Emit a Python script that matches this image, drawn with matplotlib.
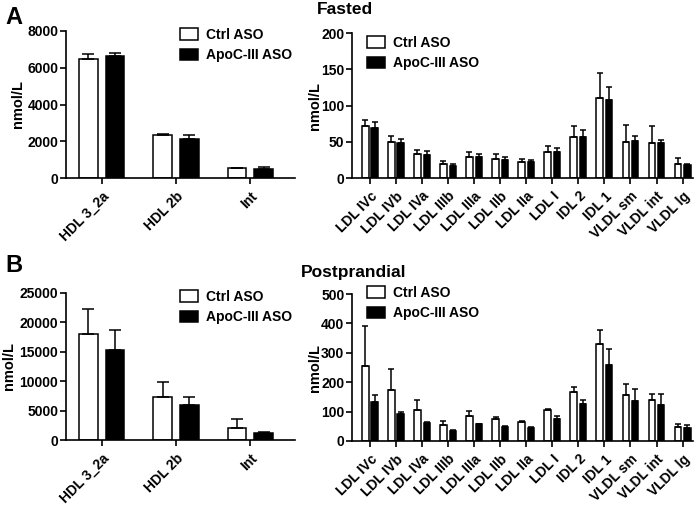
import matplotlib
matplotlib.use("Agg")
import matplotlib.pyplot as plt
import numpy as np

plt.rcParams["font.family"] = ["Liberation Sans", "DejaVu Sans"]
plt.rcParams["font.weight"] = "bold"

HDL_LABELS = ["HDL 3_2a", "HDL 2b", "Int"]
LDL_LABELS = ["LDL IVc", "LDL IVb", "LDL IVa", "LDL IIIb", "LDL IIIa", "LDL IIb",
              "LDL IIa", "LDL I", "IDL 2", "IDL 1", "VLDL sm", "VLDL int", "VLDL lg"]

# Fasted
fast_hdl_ctrl = [6450, 2330, 545]
fast_hdl_ctrl_err = [300, 50, 20]
fast_hdl_apo = [6640, 2145, 510]
fast_hdl_apo_err = [160, 200, 90]

fast_ldl_ctrl = [71.7, 49.7, 33, 19.3, 29, 25.7, 21.6, 35.9, 56, 110, 49.7, 48.3, 18.9]
fast_ldl_ctrl_err = [8.8, 8.3, 5, 3.7, 7, 6.9, 4.6, 7.8, 16, 35, 22.9, 23.4, 9.1]
fast_ldl_apo = [69, 48.7, 32, 17, 28.5, 25.3, 21.6, 35.9, 56, 107, 50.6, 48.7, 18.4]
fast_ldl_apo_err = [8, 5.1, 4.8, 2.3, 4.1, 3.2, 3.7, 5, 10, 19, 7.4, 4.2, 0.5]

# Postprandial
post_hdl_ctrl = [18000, 7390, 2030]
post_hdl_ctrl_err = [4235, 2490, 1470]
post_hdl_apo = [15350, 5925, 1185]
post_hdl_apo_err = [3330, 1470, 225]

post_ldl_ctrl = [256, 172, 104, 53, 86, 75, 66, 107, 167, 330, 158, 139, 46]
post_ldl_ctrl_err = [134, 73, 34, 14, 16, 8, 2, 2, 16, 49, 35, 22, 11]
post_ldl_apo = [133, 93, 62, 35, 57, 49, 44, 75, 125, 259, 137, 124, 43]
post_ldl_apo_err = [23, 6, 3, 1, 1, 3, 2, 9, 13, 54, 40, 37, 11]

W, H = 697, 505


def _axes(fig, x0, y0, x1, y1):
    return fig.add_axes([x0 / W, 1 - y1 / H, (x1 - x0) / W, (y1 - y0) / H])


def _panel(ax, labels, ctrl, ctrl_err, apo, apo_err, ymax, ystep, xlim,
           capsize, legend_xy, ylab_x, fig):
    x = np.arange(len(labels))
    bw, off = 0.25, 0.18
    ekw = dict(ecolor="black", elinewidth=1.1, capthick=1.1, capsize=capsize)
    ax.bar(x - off, ctrl, bw, yerr=[np.zeros(len(ctrl)), ctrl_err],
           color="white", edgecolor="black", linewidth=1.1,
           error_kw=ekw, label="Ctrl ASO", zorder=2)
    ax.bar(x + off, apo, bw, yerr=[np.zeros(len(apo)), apo_err],
           color="black", edgecolor="black", linewidth=1.1,
           error_kw=ekw, label="ApoC-III ASO", zorder=2)
    ax.set_xlim(*xlim)
    ax.set_ylim(0, ymax)
    ax.set_yticks(np.arange(0, ymax + 1, ystep))
    ax.set_xticks(x)
    ax.set_xticklabels(labels, rotation=45, ha="right", rotation_mode="anchor",
                       fontsize=10, fontweight="bold")
    ax.tick_params(axis="y", labelsize=10, width=1.2, length=4.5, pad=1)
    ax.tick_params(axis="x", width=1.2, length=4.5)
    for lab in ax.get_yticklabels():
        lab.set_fontweight("bold")
    ax.spines["top"].set_visible(False)
    ax.spines["right"].set_visible(False)
    ax.spines["left"].set_linewidth(1.2)
    ax.spines["bottom"].set_linewidth(1.2)
    ax.set_ylabel("nmol/L", fontsize=10.5, fontweight="bold")
    pos = ax.get_position()
    ax.yaxis.set_label_coords((ylab_x - pos.x0 * W) / (pos.width * W), 0.5)
    ax.legend(loc="upper left", bbox_to_anchor=(legend_xy[0] / W, 1 - legend_xy[1] / H),
              bbox_transform=fig.transFigure, frameon=False,
              prop=dict(size=10, weight="bold"), handlelength=1.3,
              handleheight=0.9, handletextpad=0.6, labelspacing=0.45,
              borderaxespad=0, borderpad=0)


fig = plt.figure(figsize=(W / 100, H / 100), dpi=100)

a1 = _axes(fig, 66, 31, 295, 178)
_panel(a1, HDL_LABELS, fast_hdl_ctrl, fast_hdl_ctrl_err, fast_hdl_apo,
       fast_hdl_apo_err, 8000, 2000, (-0.48, 2.6), 4.5, (180, 28), 25, fig)
a2 = _axes(fig, 352, 33, 693, 178)
_panel(a2, LDL_LABELS, fast_ldl_ctrl, fast_ldl_ctrl_err, fast_ldl_apo,
       fast_ldl_apo_err, 200, 50, (-0.69, 12.4), 2, (367, 36), 322, fig)
b1 = _axes(fig, 66, 293, 295, 440)
_panel(b1, HDL_LABELS, post_hdl_ctrl, post_hdl_ctrl_err, post_hdl_apo,
       post_hdl_apo_err, 25000, 5000, (-0.48, 2.6), 4.5, (180, 290), 16, fig)
b2 = _axes(fig, 352, 294, 693, 441)
_panel(b2, LDL_LABELS, post_ldl_ctrl, post_ldl_ctrl_err, post_ldl_apo,
       post_ldl_apo_err, 500, 100, (-0.69, 12.4), 2, (367, 286), 322, fig)

fig.text(5 / W, 1 - 17 / H, "A", fontsize=17, fontweight="bold", va="center")
fig.text(5 / W, 1 - 265 / H, "B", fontsize=17, fontweight="bold", va="center")
fig.text(345 / W, 1 - 9 / H, "Fasted", fontsize=12.5, fontweight="bold",
         ha="center", va="center")
fig.text(354 / W, 1 - 273 / H, "Postprandial", fontsize=12.5, fontweight="bold",
         ha="center", va="center")

fig.savefig("out.png", dpi=100)
